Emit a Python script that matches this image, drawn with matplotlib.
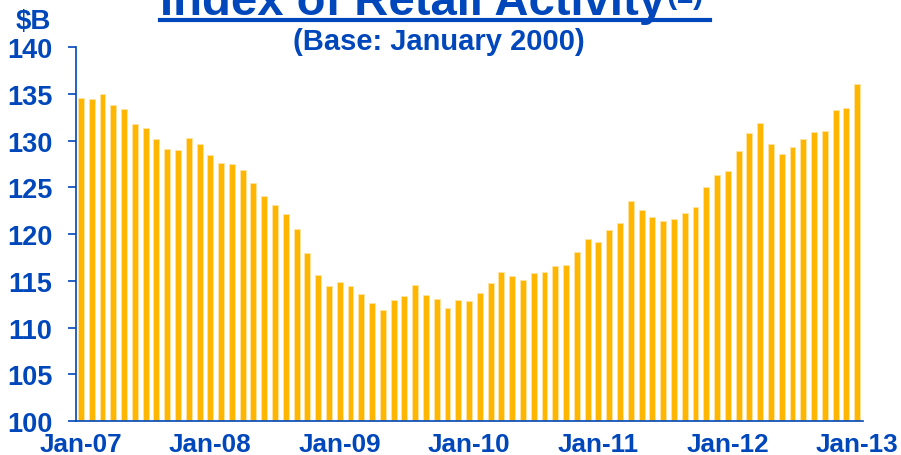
import matplotlib
matplotlib.use("Agg")
import matplotlib.pyplot as plt
from matplotlib.lines import Line2D

# --- Data: monthly index, Jan-07 .. Jan-13 ($B) ---
values = [
    134.6, 134.5, 135.0, 133.8, 133.4, 131.8, 131.4, 130.2, 129.1, 129.0, 130.3, 129.7,  # 2007
    128.5, 127.6, 127.5, 126.9, 125.5, 124.1, 123.1, 122.2, 120.5, 118.0, 115.6, 114.5,  # 2008
    114.9, 114.5, 113.6, 112.6, 111.9, 113.0, 113.4, 114.6, 113.5, 113.1, 112.1, 112.9,  # 2009
    112.8, 113.7, 114.8, 115.9, 115.5, 115.1, 115.8, 116.0, 116.6, 116.7, 118.1, 119.5,  # 2010
    119.2, 120.4, 121.2, 123.5, 122.6, 121.8, 121.4, 121.6, 122.3, 122.9, 125.1, 126.3,  # 2011
    126.8, 128.9, 130.8, 131.9, 129.6, 128.6, 129.3, 130.2, 130.9, 131.0, 133.3, 133.5,  # 2012
    136.1,                                                                              # 2013
]
tick_labels = ["Jan-07", "Jan-08", "Jan-09", "Jan-10", "Jan-11", "Jan-12", "Jan-13"]
y_ticks = [100, 105, 110, 115, 120, 125, 130, 135, 140]

blue = "#0047BB"
gold = "#FFB600"

plt.rcParams["font.family"] = ["Liberation Sans", "DejaVu Sans"]
plt.rcParams["font.weight"] = "bold"

fig = plt.figure(figsize=(9.01, 4.56), dpi=100)
ax = fig.add_axes([76 / 901, 1 - 422 / 456, (863 - 76) / 901, (422 - 48.3) / 456])

x = list(range(len(values)))
ax.bar(x, [v - 100 for v in values], bottom=100, width=0.55,
       color=gold, edgecolor="#FFE3A0", linewidth=0.6)

ax.set_xlim(-0.46, len(values) - 0.46)
ax.set_ylim(100, 140)
ax.set_yticks(y_ticks)
ax.set_yticklabels([str(t) for t in y_ticks])
ax.set_xticks(list(range(0, len(values), 12)))
ax.set_xticklabels(tick_labels)

for side in ["top", "right"]:
    ax.spines[side].set_visible(False)
for side in ["left", "bottom"]:
    ax.spines[side].set_color(blue)
    ax.spines[side].set_linewidth(1.2)

ax.tick_params(axis="y", colors=blue, length=6, width=1.2, pad=11, labelsize=19.5)
ax.tick_params(axis="x", colors=blue, length=0, pad=8, labelsize=18.8)
for lbl in ax.get_xticklabels() + ax.get_yticklabels():
    lbl.set_fontweight("bold")

# --- Titles ---
fig.text(160 / 901, 1 - 15 / 456, "Index of Retail Activity", color=blue,
         fontsize=34, fontweight="bold", ha="left", va="baseline")
fig.text(666 / 901, 1 - 3 / 456, "(1)", color=blue,
         fontsize=22, fontweight="bold", ha="left", va="baseline")
fig.add_artist(Line2D([160 / 901, 710 / 901], [1 - 21 / 456, 1 - 21 / 456],
                      transform=fig.transFigure, color=blue, linewidth=3))
fig.text(439 / 901, 1 - 42 / 456, "(Base: January 2000)", color=blue,
         fontsize=21, fontweight="bold", ha="center", va="center")
fig.text(33 / 901, 1 - 22 / 456, "$B", color=blue,
         fontsize=20, fontweight="bold", ha="center", va="center")

fig.savefig("out.png", dpi=100)
